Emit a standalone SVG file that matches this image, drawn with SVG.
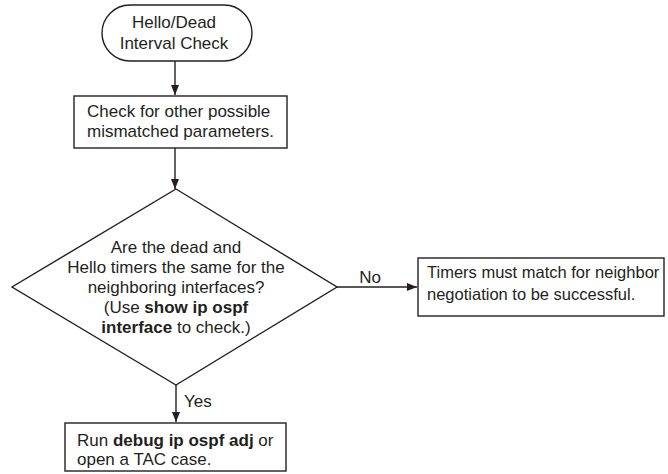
<svg xmlns="http://www.w3.org/2000/svg" width="668" height="474" viewBox="0 0 668 474">
  <style>
    .shape { fill: #ffffff; stroke: #231f20; stroke-width: 1.4; }
    .wire { fill: none; stroke: #231f20; stroke-width: 1.4; }
    text { font-family: "Liberation Sans", Arial, sans-serif; font-size: 17px; fill: #231f20; }
    .mid { text-anchor: middle; }
    .b { font-weight: bold; }
    .tight { font-size: 16.5px; }
  </style>
  <defs>
    <marker id="arrow" viewBox="0 0 10 10" refX="10" refY="5" markerWidth="10" markerHeight="10" markerUnits="userSpaceOnUse" orient="auto">
      <path d="M0,1 L10,5 L0,9 z" fill="#231f20"/>
    </marker>
  </defs>

  <g id="connectors">
    <line class="wire" x1="175" y1="61" x2="175" y2="95" marker-end="url(#arrow)"/>
    <line class="wire" x1="175" y1="148" x2="175" y2="189" marker-end="url(#arrow)"/>
    <line class="wire" x1="337" y1="287" x2="417" y2="287" marker-end="url(#arrow)"/>
    <line class="wire" x1="176" y1="385" x2="176" y2="422" marker-end="url(#arrow)"/>
    <text x="370" y="283" class="mid">No</text>
    <text x="184" y="407">Yes</text>
  </g>

  <g id="start">
    <rect class="shape" x="102" y="5" width="150" height="56" rx="28" ry="28"/>
    <text x="174" y="28" class="mid">Hello/Dead</text>
    <text x="174" y="49" class="mid">Interval Check</text>
  </g>

  <g id="check-params">
    <rect class="shape" x="74" y="96" width="213" height="52"/>
    <text x="87" y="117">Check for other possible</text>
    <text x="87" y="137">mismatched parameters.</text>
  </g>

  <g id="timers-decision">
    <polygon class="shape" points="176,189 337,287 176,385 12,287"/>
    <text x="176" y="253" class="mid">Are the dead and</text>
    <text x="176" y="273" class="mid">Hello timers the same for the</text>
    <text x="176" y="293" class="mid">neighboring interfaces?</text>
    <text x="176" y="313" class="mid">(Use <tspan class="b">show ip ospf</tspan></text>
    <text x="176" y="333" class="mid"><tspan class="b">interface</tspan> to check.)</text>
  </g>

  <g id="timers-must-match">
    <rect class="shape" x="418" y="258" width="246" height="58"/>
    <text x="427" y="278" class="tight">Timers must match for neighbor</text>
    <text x="427" y="300" class="tight">negotiation to be successful.</text>
  </g>

  <g id="debug-adj">
    <rect class="shape" x="65" y="423" width="221" height="48"/>
    <text x="77" y="446">Run <tspan class="b">debug ip ospf adj</tspan> or</text>
    <text x="77" y="465">open a TAC case.</text>
  </g>
</svg>
